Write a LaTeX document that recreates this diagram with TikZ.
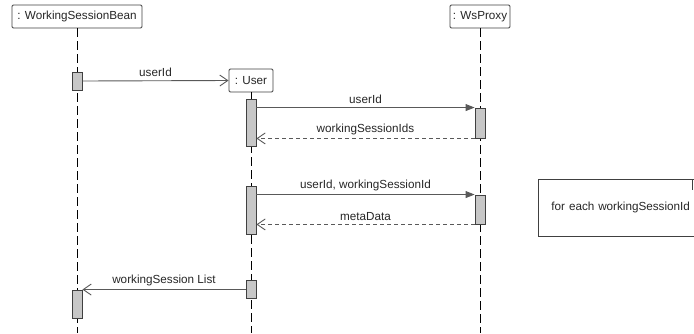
\documentclass[tikz,border=0pt]{standalone}
\usepackage{fontspec}
\setmainfont{Liberation Sans}
\usetikzlibrary{arrows.meta,calc}

\begin{document}
\begin{tikzpicture}[x=1pt,y=-1pt,line width=0.9pt,
	head/.style={draw=black!75,fill=white,rounded corners=1.2pt,inner xsep=2pt,inner ysep=0pt,minimum height=23pt,font=\fontsize{11.7}{14}\selectfont,text=black!85},
	act/.style={draw=black!75,fill=black!22,minimum width=10pt,inner sep=0pt},
	life/.style={draw=black,dash pattern=on 9pt off 4pt},
	call/.style={draw=black!65,-{Triangle[length=9pt,width=7pt]}},
	send/.style={draw=black!65,-{Straight Barb[length=8pt,width=11pt]}},
	reply/.style={draw=black!65,dash pattern=on 4pt off 3pt,-{Straight Barb[length=8pt,width=11pt]}},
	lbl/.style={font=\fontsize{11.7}{14}\selectfont,text=black!85,above=0pt,midway}]
\useasboundingbox (0,0) rectangle (694,333);
\clip (0,0) rectangle (694,333);
% heads
\node[head,minimum width=130pt] (bean) at (77,16.5) {: WorkingSessionBean};
\node[head,minimum width=60pt] (proxy) at (480,16.5) {: WsProxy};
\node[head,minimum width=44pt] (user) at (251,80.5) {: User};
\coordinate (beanEnd) at (77,333);
\coordinate (proxyEnd) at (480,333);
\coordinate (userEnd) at (251,333);
% lifelines
\draw[life] (bean.south) -- (beanEnd);
\draw[life] (proxy.south) -- (proxyEnd);
\draw[life] (user.south) -- (userEnd);
% activations
\node[act,minimum height=18pt] (b1) at (77,81) {};
\node[act,minimum height=28pt] (b2) at (77,304) {};
\node[act,minimum height=47pt] (u1) at (251,122.5) {};
\node[act,minimum height=48pt] (u2) at (251,210) {};
\node[act,minimum height=18pt] (u3) at (251,289) {};
\node[act,minimum height=30pt] (p1) at (480,123) {};
\node[act,minimum height=29pt] (p2) at (480,209.5) {};
% messages
\draw[send] (b1.east) -- (user.west) node[lbl] {userId};
\draw[call] (u1.east |- p1.north) -- (p1.north west) node[lbl] {userId};
\draw[reply] (p1.south west) -- (u1.east |- p1.south) node[lbl] {workingSessionIds};
\draw[call] (u2.east |- p2.north) -- (p2.north west) node[lbl] {userId, workingSessionId};
\draw[reply] (p2.south west) -- (u2.east |- p2.south) node[lbl] {metaData};
\draw[send] (u3.west |- b2.north) -- (b2.north east) node[lbl] {workingSession List};
% note
\node[draw=black!75,anchor=north west,minimum height=57pt,text width=144pt,inner xsep=13pt,align=left,font=\fontsize{11.7}{14}\selectfont,text=black!85] (loop) at (538,179) {for each workingSessionId};
\draw[black!75] ([xshift=154pt]loop.north west) -- ++(0,11);
\end{tikzpicture}
\end{document}
